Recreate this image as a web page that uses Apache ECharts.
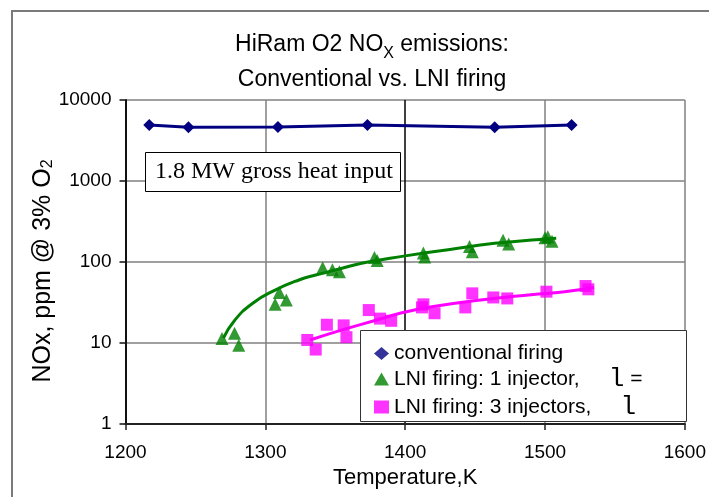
<!DOCTYPE html>
<html>
<head>
<meta charset="utf-8">
<script src="https://cdn.jsdelivr.net/npm/echarts@6/dist/echarts.min.js"></script>
<style>
html,body{margin:0;padding:0;background:#fff;}
#chart{width:709px;height:497px;}
</style>
</head>
<body>
<div id="chart"></div>
<script>
// ---- data ----
var xTicks = [1200, 1300, 1400, 1500, 1600];
var yTicks = [1, 10, 100, 1000, 10000];

var convT   = [1217, 1245, 1309, 1373, 1464, 1519];
var convNOx = [4900, 4600, 4650, 4900, 4600, 4900];

var lni1T   = [1269, 1278, 1281, 1307, 1310, 1315, 1341, 1348, 1353, 1378, 1380, 1413, 1414, 1446, 1448, 1470, 1474, 1500, 1502, 1505];
var lni1NOx = [11.4, 13.2, 9.4, 30, 42, 34, 85, 80, 76, 114, 104, 129, 115, 155, 134, 185, 167, 199, 205, 181];

var lni3T   = [1330, 1336, 1344, 1356, 1358, 1374, 1382, 1390, 1412, 1413, 1421, 1443, 1448, 1463, 1473, 1501, 1529, 1531];
var lni3NOx = [10.9, 8.3, 16.8, 16.5, 11.8, 25.5, 20, 18.8, 27.5, 30, 23.3, 27.5, 41, 36.5, 35.5, 43, 50.5, 46];

// trend curves
var trend1T   = [1270, 1278, 1291, 1307, 1324, 1336, 1353, 1368, 1385, 1400, 1432, 1464, 1496, 1508];
var trend1NOx = [11.5, 19, 31, 45, 60, 69, 82, 96, 108, 119, 143, 170, 190, 196];

var trend3T   = [1332, 1355, 1384, 1395, 1419, 1454, 1490, 1514, 1535];
var trend3NOx = [10.9, 14.5, 20.2, 23, 28, 34, 39.5, 43, 48.5];

var names = ['conventional firing', 'LNI firing: 1 injector', 'LNI firing: 3 injectors'];
var legendText = {
  'conventional firing': 'conventional firing',
  'LNI firing: 1 injector': 'LNI firing: 1 injector,     {m|l} =',
  'LNI firing: 3 injectors': 'LNI firing: 3 injectors,     {m|l}'
};

function pairs(xs, ys) { return xs.map(function (x, i) { return [x, ys[i]]; }); }

var SANS = 'Liberation Sans, Arial, sans-serif';
var chart = echarts.init(document.getElementById('chart'), null, {renderer: 'canvas'});

chart.setOption({
  backgroundColor: '#ffffff',
  animation: false,
  title: {
    text: 'HiRam O2 NO{sub|X} emissions:\nConventional vs. LNI firing',
    left: 367,
    top: 22,
    textAlign: 'center',
    textStyle: {
      fontFamily: SANS, fontSize: 23, fontWeight: 'normal', color: '#000', lineHeight: 35,
      rich: { sub: { fontFamily: SANS, fontSize: 16, verticalAlign: 'bottom', lineHeight: 26, color: '#000' } }
    }
  },
  grid: { left: 125.5, right: 22, top: 100, bottom: 73, containLabel: false },
  xAxis: {
    type: 'value', min: 1200, max: 1600, interval: 100,
    name: 'Temperature,K', nameLocation: 'middle', nameGap: 33,
    nameTextStyle: { fontFamily: SANS, fontSize: 22, color: '#000' },
    axisLine: { show: true, lineStyle: { color: '#222', width: 2 } },
    axisTick: { show: true, length: 6, lineStyle: { color: '#222', width: 1.5 } },
    axisLabel: { fontFamily: SANS, fontSize: 19, color: '#000', margin: 19,
      formatter: function (v) { return xTicks.indexOf(v) >= 0 ? String(v) : ''; } },
    splitLine: { show: true, lineStyle: { color: ['#808080', '#808080', '#000000', '#808080', '#808080'], width: 1.5 } }
  },
  yAxis: {
    type: 'log', logBase: 10, min: 1, max: 10000,
    axisLine: { show: true, lineStyle: { color: '#111', width: 2 } },
    axisTick: { show: true, length: 6, lineStyle: { color: '#111', width: 1.5 } },
    minorTick: { show: false },
    axisLabel: { fontFamily: SANS, fontSize: 19, color: '#000', margin: 14,
      formatter: function (v) { var r = Math.round(v); return yTicks.indexOf(r) >= 0 ? String(r) : ''; } },
    splitLine: { show: true, lineStyle: { color: '#808080', width: 1.5 } }
  },
  legend: {
    orient: 'vertical',
    left: 374, top: 343,
    padding: 0,
    itemGap: 2,
    itemWidth: 15, itemHeight: 13,
    z: 20,
    data: [
      { name: names[0], icon: 'diamond', itemStyle: { color: '#333399' } },
      { name: names[1], icon: 'triangle', itemStyle: { color: '#008000' } },
      { name: names[2], icon: 'rect', itemStyle: { color: '#FF00FF' } }
    ],
    formatter: function (n) { return legendText[n]; },
    textStyle: {
      fontFamily: SANS, fontSize: 21, color: '#000', lineHeight: 21,
      rich: { m: { fontFamily: 'Liberation Mono, Courier New, monospace', fontSize: 26, color: '#000', lineHeight: 21 } }
    },
    selectedMode: false
  },
  graphic: [
    { type: 'rect', z: -10, silent: true,
      shape: { x: 12, y: 11, width: 800, height: 600 },
      style: { fill: 'none', stroke: '#7a7a7a', lineWidth: 2 } },
    { type: 'rect', z: 10, silent: true,
      shape: { x: 360.5, y: 330.5, width: 326, height: 91 },
      style: { fill: '#fff', stroke: '#333', lineWidth: 1 } },
    { type: 'rect', z: 10, silent: true,
      shape: { x: 145.5, y: 152.5, width: 255, height: 39 },
      style: { fill: '#fff', stroke: '#000', lineWidth: 1 } },
    { type: 'text', z: 11, silent: true, x: 274, y: 172,
      style: { text: '1.8 MW gross heat input', fontFamily: 'Liberation Serif, Times New Roman, serif',
        fontSize: 24, fill: '#000', align: 'center', verticalAlign: 'middle' } },
    { type: 'text', z: 11, silent: true, x: 43, y: 271, rotation: Math.PI / 2,
      style: { text: 'NOx, ppm @ 3% O{s|2}', fontFamily: SANS, fontSize: 25, fill: '#000',
        align: 'center', verticalAlign: 'middle',
        rich: { s: { fontFamily: SANS, fontSize: 16, verticalAlign: 'bottom', lineHeight: 25 } } } }
  ],
  series: [
    { name: 'trend3', type: 'line', data: pairs(trend3T, trend3NOx), smooth: true, symbol: 'none', silent: true,
      lineStyle: { color: '#FF00FF', width: 3 }, z: 2 },
    { name: 'trend1', type: 'line', data: pairs(trend1T, trend1NOx), smooth: true, symbol: 'none', silent: true,
      lineStyle: { color: '#008000', width: 3 }, z: 2 },
    { name: names[2], type: 'scatter', data: pairs(lni3T, lni3NOx), symbol: 'rect', symbolSize: 12,
      itemStyle: { color: '#FF00FF' }, z: 3 },
    { name: names[1], type: 'scatter', data: pairs(lni1T, lni1NOx), symbol: 'triangle', symbolSize: 13,
      itemStyle: { color: '#008000' }, z: 3 },
    { name: names[0], type: 'line', data: pairs(convT, convNOx), symbol: 'diamond', symbolSize: 12,
      lineStyle: { color: '#000080', width: 3 }, itemStyle: { color: '#000080' }, z: 3 }
  ]
});
</script>
</body>
</html>
